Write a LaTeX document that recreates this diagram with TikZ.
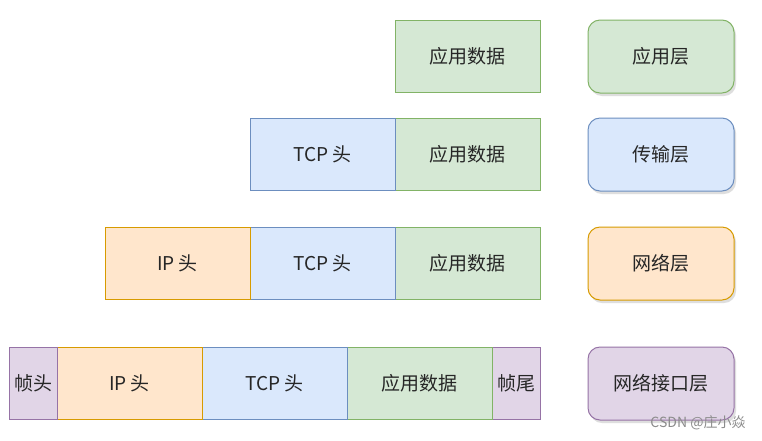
\documentclass[tikz,border=0pt]{standalone}
\usepackage{fontspec}
\setmainfont{Noto Sans CJK SC}
\usetikzlibrary{positioning,shadows}

\definecolor{gfill}{HTML}{D5E8D4}\definecolor{gline}{HTML}{82B366}
\definecolor{bfill}{HTML}{DAE8FC}\definecolor{bline}{HTML}{6C8EBF}
\definecolor{ofill}{HTML}{FFE6CC}\definecolor{oline}{HTML}{D79B00}
\definecolor{pfill}{HTML}{E1D5E7}\definecolor{pline}{HTML}{9673A6}

\tikzset{
  seg/.style={draw, line width=1pt, minimum width=145pt, minimum height=72pt,
    inner sep=0pt, outer sep=0pt, text=black!85, font=\fontsize{19}{22}\selectfont},
  appseg/.style={seg, fill=gfill, draw=gline},
  tcpseg/.style={seg, fill=bfill, draw=bline},
  ipseg/.style={seg, fill=ofill, draw=oline},
  frameseg/.style={seg, fill=pfill, draw=pline, minimum width=48pt},
  layerbox/.style={seg, minimum width=146pt, minimum height=73pt, rounded corners=12pt,
    drop shadow={shadow xshift=2pt, shadow yshift=-3pt, fill=black!25}}
}

\begin{document}
\begin{tikzpicture}[x=1pt,y=-1pt]
		\useasboundingbox[fill=white] (0,0) rectangle (762,440);
		% application layer
		\node[appseg, anchor=north west] (app1) at (395,20) {应用数据};
		\node[layerbox, fill=gfill, draw=gline, anchor=north west] (lay1) at (588,20) {应用层};
		% transport layer
		\node[appseg, anchor=north west] (app2) at (395,118) {应用数据};
		\node[tcpseg, left=0pt of app2] (tcp2) {TCP 头};
		\node[layerbox, fill=bfill, draw=bline, anchor=north west] (lay2) at (588,118) {传输层};
		% network layer
		\node[appseg, anchor=north west] (app3) at (395,227) {应用数据};
		\node[tcpseg, left=0pt of app3] (tcp3) {TCP 头};
		\node[ipseg, left=0pt of tcp3] (ip3) {IP 头};
		\node[layerbox, fill=ofill, draw=oline, anchor=north west] (lay3) at (588,227) {网络层};
		% link layer
		\node[frameseg, anchor=north west] (tail4) at (492,347) {帧尾};
		\node[appseg, left=0pt of tail4] (app4) {应用数据};
		\node[tcpseg, left=0pt of app4] (tcp4) {TCP 头};
		\node[ipseg, left=0pt of tcp4] (ip4) {IP 头};
		\node[frameseg, left=0pt of ip4] (head4) {帧头};
		\node[layerbox, fill=pfill, draw=pline, anchor=north west] (lay4) at (588,347) {网络接口层};
		\node[text=black!45, font=\fontsize{14}{16}\selectfont] (mark) at (698,423) {CSDN @庄小焱};
	\end{tikzpicture}
\end{document}
